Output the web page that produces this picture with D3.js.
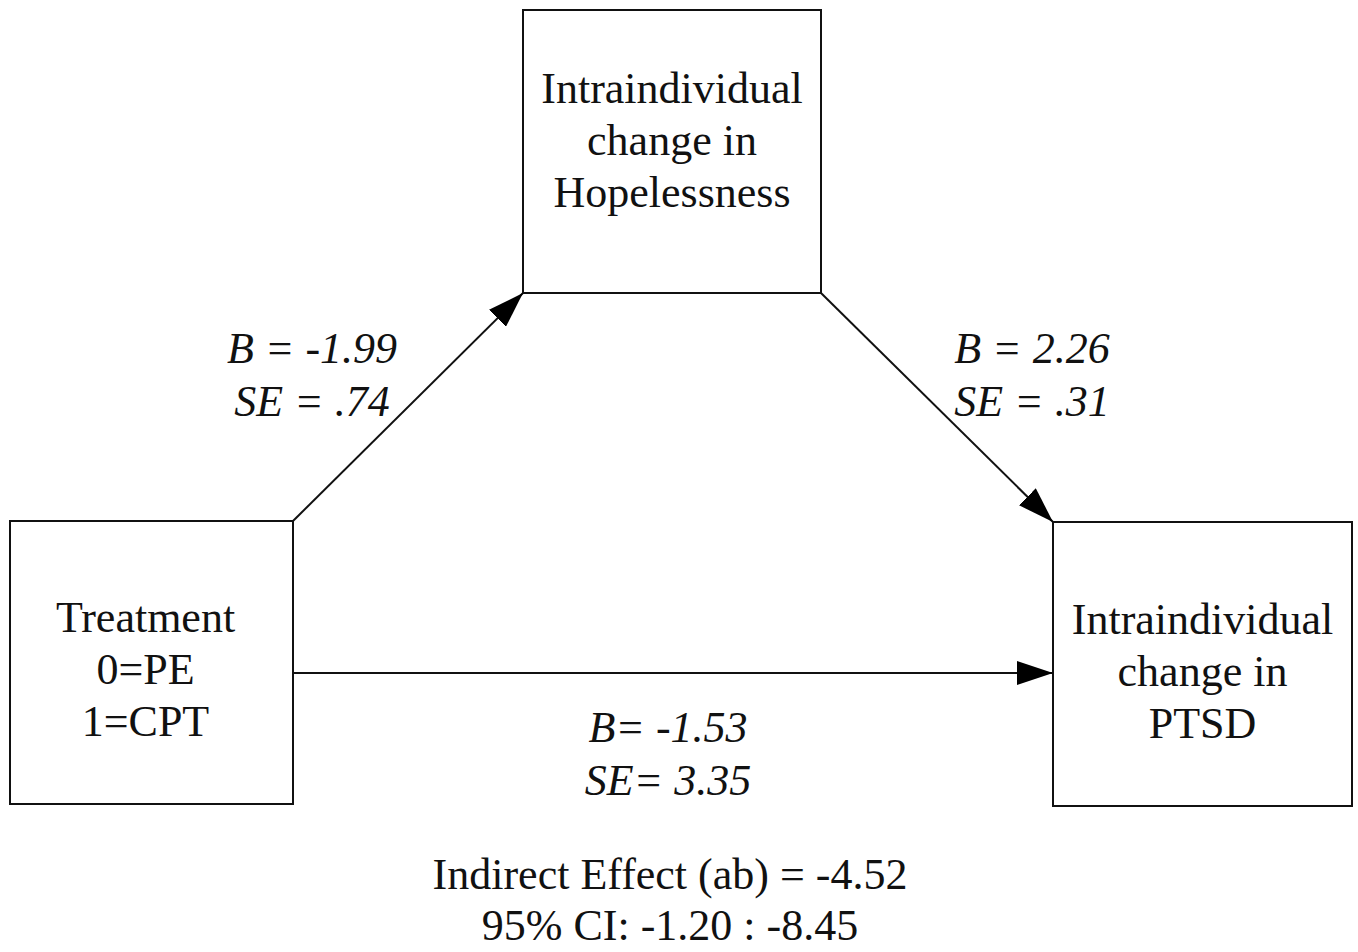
<!DOCTYPE html>
<html>
<head>
<meta charset="utf-8">
<script src="https://cdn.jsdelivr.net/npm/d3@7"></script>
<style>
  body { margin: 0; background: #fff; }
  svg { display: block; }
  text { font-family: "Liberation Serif", "Times New Roman", serif; fill: #111; }
</style>
</head>
<body>
<script>
// node labels (one entry per text line)
const treatmentLines = ["Treatment", "0=PE", "1=CPT"]
const mediatorLines = ["Intraindividual", "change in", "Hopelessness"]
const outcomeLines = ["Intraindividual", "change in", "PTSD"]

// path coefficients
const pathNames = ["a", "b", "c"]
const pathB = ["B = -1.99", "B = 2.26", "B= -1.53"]
const pathSE = ["SE = .74", "SE = .31", "SE= 3.35"]

// indirect effect summary
const summaryLines = ["Indirect Effect (ab) = -4.52", "95% CI: -1.20 : -8.45"]

const W = 1358, H = 952
const svg = d3.select("body").append("svg")
  .attr("width", W)
  .attr("height", H)

// arrow head
svg.append("defs").append("marker")
  .attr("id", "head")
  .attr("markerUnits", "userSpaceOnUse")
  .attr("viewBox", "0 0 36 24")
  .attr("refX", 36)
  .attr("refY", 12)
  .attr("markerWidth", 36)
  .attr("markerHeight", 24)
  .attr("orient", "auto")
  .append("path")
  .attr("d", "M0,0 L36,12 L0,24 Z")
  .style("fill", "#000")

// box layout
const boxes = [
  { lines: treatmentLines, x: 10, y: 521, w: 283, h: 283, first: 632, dx: -6 },
  { lines: mediatorLines, x: 523, y: 10, w: 298, h: 283, first: 103, dx: 0 },
  { lines: outcomeLines, x: 1053, y: 522, w: 299, h: 284, first: 634, dx: 0 }
]
const lineStep = 52

const g = svg.append("g")

g.selectAll("rect.box")
  .data(boxes)
  .join("rect")
  .attr("class", "box")
  .attr("x", d => d.x)
  .attr("y", d => d.y)
  .attr("width", d => d.w)
  .attr("height", d => d.h)
  .style("fill", "none")
  .style("stroke", "#111")
  .style("stroke-width", 2)

boxes.forEach(b => {
  g.selectAll(null)
    .data(b.lines)
    .join("text")
    .attr("x", b.x + b.w / 2 + b.dx)
    .attr("y", (d, i) => b.first + i * lineStep)
    .attr("text-anchor", "middle")
    .style("font-size", "44px")
    .text(d => d)
})

const [tr, me, ou] = boxes
// arrows: a (treatment -> mediator), b (mediator -> outcome), c (treatment -> outcome)
const arrows = [
  { x1: tr.x + tr.w, y1: tr.y, x2: me.x, y2: me.y + me.h },
  { x1: me.x + me.w, y1: me.y + me.h, x2: ou.x, y2: ou.y },
  { x1: tr.x + tr.w, y1: 673, x2: ou.x, y2: 673 }
]

g.selectAll("line.path")
  .data(arrows)
  .join("line")
  .attr("class", "path")
  .attr("x1", d => d.x1)
  .attr("y1", d => d.y1)
  .attr("x2", d => d.x2)
  .attr("y2", d => d.y2)
  .style("stroke", "#111")
  .style("stroke-width", 2)
  .attr("marker-end", "url(#head)")

// coefficient labels
const labelPos = [
  { x: 312, y: 363 },
  { x: 1032, y: 363 },
  { x: 668, y: 742 }
]

pathNames.forEach((p, i) => {
  g.selectAll(null)
    .data([pathB[i], pathSE[i]])
    .join("text")
    .attr("x", labelPos[i].x)
    .attr("y", (d, j) => labelPos[i].y + j * 53)
    .attr("text-anchor", "middle")
    .style("font-size", "44px")
    .style("font-style", "italic")
    .text(d => d)
})

g.selectAll("text.summary")
  .data(summaryLines)
  .join("text")
  .attr("class", "summary")
  .attr("x", 670)
  .attr("y", (d, i) => 889 + i * 51)
  .attr("text-anchor", "middle")
  .style("font-size", "44px")
  .text(d => d)
</script>
</body>
</html>
